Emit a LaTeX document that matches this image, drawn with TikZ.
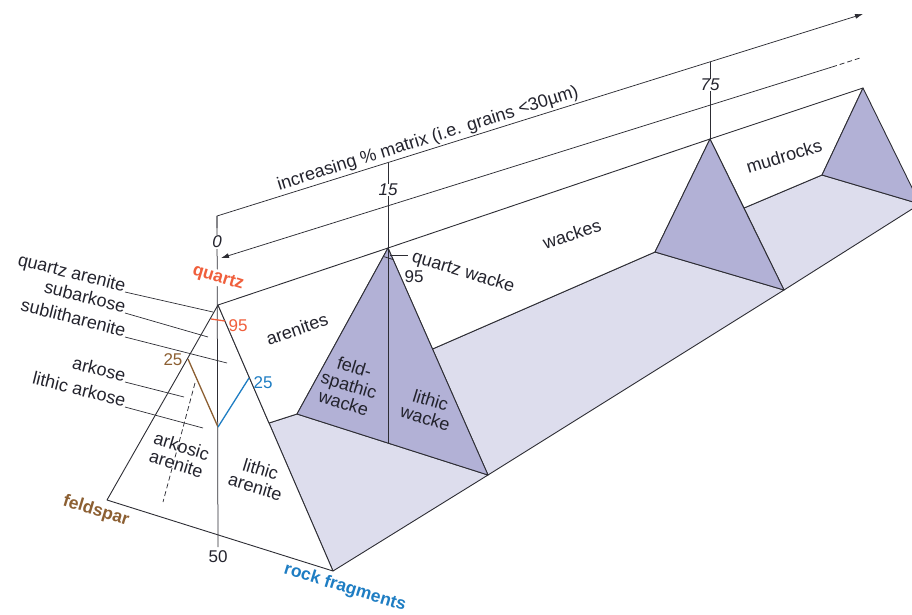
\documentclass[tikz,border=0pt]{standalone}
\usepackage{fontspec}
\setmainfont{Liberation Sans}
\usetikzlibrary{arrows.meta}

\definecolor{edgegray}{RGB}{45,45,52}
\definecolor{wackefill}{RGB}{178,177,214}
\definecolor{floorfill}{RGB}{221,221,237}
\definecolor{qred}{RGB}{240,95,60}
\definecolor{fbrown}{RGB}{140,95,50}
\definecolor{rblue}{RGB}{30,125,195}
\definecolor{txtdark}{RGB}{35,35,45}

\begin{document}
\begin{tikzpicture}[
    x=1pt, y=-1pt,
    outline/.style={draw=edgegray, line width=0.9pt, line join=round},
    face/.style={outline, fill=white},
    floorface/.style={outline, fill=floorfill},
    wackeface/.style={outline, fill=wackefill},
    guide/.style={draw=edgegray, line width=0.75pt},
    ptr/.style={draw=edgegray, line width=0.7pt},
    tip/.style={-{Latex[length=8pt,width=5pt]}},
    lbl/.style={font=\fontsize{18}{18.5}\selectfont, text=txtdark, align=center, inner sep=1pt},
    side/.style={lbl, rotate=-14, anchor=base east},
    down/.style={lbl, rotate=-17},
    along/.style={lbl, rotate=18},
    corner/.style={lbl, rotate=-17, font=\fontsize{17.5}{18}\selectfont\bfseries},
    num/.style={lbl, font=\fontsize{17}{18}\selectfont},
    scalenum/.style={num, font=\fontsize{17}{18}\selectfont\itshape, fill=white, inner sep=0.5pt},
    fieldline/.style={line width=1.3pt}
]
\clip (0,0) rectangle (912,614);

% corners of the sections
\coordinate (Q) at (218,305);
\coordinate (F) at (107,500);
\coordinate (R) at (333,571);
\coordinate (A1) at (269,423);
\coordinate (W) at (388,248);
\coordinate (WL) at (297,414);
\coordinate (WR) at (488,475);
\coordinate (Wb) at (388,443);
\coordinate (B2) at (432.5,349);
\coordinate (M) at (710,139);
\coordinate (ML) at (655,252);
\coordinate (MR) at (784,290);
\coordinate (C3) at (744,208);
\coordinate (N) at (863,88);
\coordinate (NL) at (822,175);
\coordinate (NR) at (920,204);

% floor and faces
\path[floorface] (A1) -- (WL) -- (WR) -- (R) -- cycle;
\path[floorface] (B2) -- (ML) -- (MR) -- (WR) -- cycle;
\path[floorface] (C3) -- (NL) -- (NR) -- (MR) -- cycle;
\path[face] (Q) -- (F) -- (R) -- cycle;
\path[face] (Q) -- (W) -- (WL) -- (A1) -- cycle;
\path[face] (W) -- (M) -- (ML) -- (B2) -- cycle;
\path[face] (M) -- (N) -- (NL) -- (C3) -- cycle;
\path[wackeface] (W) -- (WL) -- (WR) -- cycle;
\path[wackeface] (M) -- (ML) -- (MR) -- cycle;
\path[wackeface] (N) -- (NL) -- (NR) -- cycle;
\draw[guide] (W) -- (Wb);

% matrix scale
\coordinate (T0) at (217,216);
\coordinate (T1) at (863,14);
\coordinate (T15) at (388,162.5);
\coordinate (T75) at (710,61.8);
\coordinate (S0) at (221,258);
\coordinate (S1) at (832,67);
\coordinate (S2) at (860,58);
\coordinate (V0) at (218,547);
\draw[guide, tip] (217,228) -- (T0) -- (T1);
\draw[guide, {Latex[length=8pt,width=5pt]}-] (S0) -- (S1);
\draw[guide, dash pattern=on 5pt off 3pt] (S1) -- (S2);
\draw[guide] (T0) -- (V0);
\draw[guide] (T15) -- (W);
\draw[guide] (T75) -- (M);
\node[scalenum] (n0) at (217,242) {0};
\node[scalenum] (n15) at (388,190) {15};
\node[scalenum] (n75) at (710,85) {75};
\node[lbl, rotate=17.4] (matrix) at (428,139) {increasing \% matrix (i.e. grains <30µm)};

% fields in the QFR triangle
\draw[qred, fieldline] (211,319) -- (225,321);
\draw[fbrown, fieldline] (188,359) -- (218,427);
\draw[rblue, fieldline] (218,427) -- (249,378);
\draw[guide, dash pattern=on 5pt off 3pt] (195,383) -- (163,502);
\draw[guide] (383.5,256.5) -- (393,259.5);

\node[corner, text=qred, fill=white, inner sep=0.5pt] (quartz) at (218,278) {quartz};
\node[corner, text=fbrown] (feldspar) at (96,511) {feldspar};
\node[corner, text=rblue] (rockfr) at (345,588) {rock fragments};
\node[num, text=qred] (q95) at (238,326) {95};
\node[num, text=fbrown] (f25) at (173,360) {25};
\node[num, text=rblue] (r25) at (263,383) {25};
\node[num] (n50) at (218,557) {50};

\node[side] (qarenite) at (125,292) {quartz arenite};
\node[side] (subark) at (125,313) {subarkose};
\node[side] (sublith) at (125,337) {sublitharenite};
\node[side] (arkose) at (125,382) {arkose};
\node[side] (litharkose) at (125,407) {lithic arkose};
\draw[ptr] (qarenite.base east) -- (213,312);
\draw[ptr] (subark.base east) -- (208,337);
\draw[ptr] (sublith.base east) -- (227,363);
\draw[ptr] (arkose.base east) -- (184,397);
\draw[ptr] (litharkose.base east) -- (203,428);

\node[down] (arkarenite) at (179,455) {arkosic\\arenite};
\node[down] (litharenite) at (258,478) {lithic\\arenite};
\node[down] (feldwacke) at (349,385) {feld-\\spathic\\wacke};
\node[down] (lithwacke) at (428,409) {lithic\\wacke};
\node[down, anchor=base west] (qwacke) at (410,261) {quartz wacke};
\coordinate (qw0) at (390,255);
\coordinate (qw1) at (408,255);
\draw[ptr] (qw0) -- (qw1);
\node[num] (w95) at (414,277) {95};

\node[along, rotate=1] (arenites) at (297,329) {arenites};
\node[along] (wackes) at (572,234) {wackes};
\node[along, rotate=-1] (mudrocks) at (784,156) {mudrocks};
\end{tikzpicture}
\end{document}
